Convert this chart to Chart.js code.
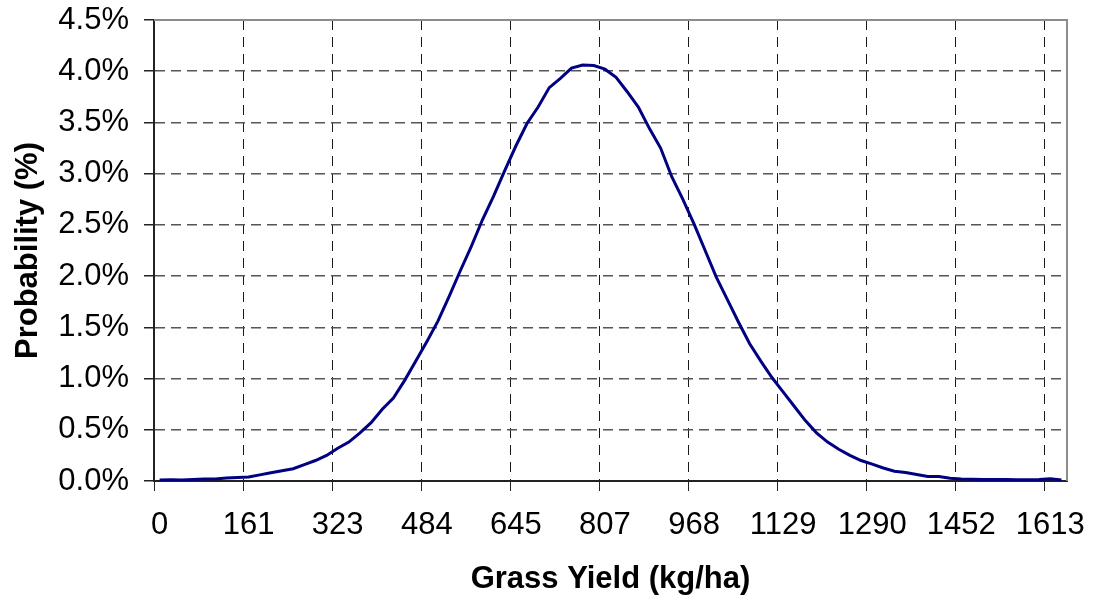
<!DOCTYPE html>
<html>
<head>
<meta charset="utf-8">
<title>Grass Yield</title>
<script src="https://cdn.jsdelivr.net/npm/chart.js@4/dist/chart.umd.min.js"></script>
<style>
  html, body { margin: 0; padding: 0; background: #fff; }
  #wrap { width: 1094px; height: 602px; }
</style>
</head>
<body>
<div id="wrap"><canvas id="chart" width="1094" height="602"></canvas></div>
<script>
// yield classes (kg/ha), one per bin
const yieldClasses = [
  '0', '20', '40', '60', '81', '101', '121', '141',
  '161', '181', '202', '222', '242', '262', '282', '302',
  '323', '343', '363', '383', '403', '423', '444', '464',
  '484', '504', '524', '544', '565', '585', '605', '625',
  '645', '665', '686', '706', '726', '746', '766', '786',
  '807', '827', '847', '867', '887', '907', '927', '948',
  '968', '988', '1008', '1028', '1048', '1069', '1089', '1109',
  '1129', '1149', '1169', '1190', '1210', '1230', '1250', '1270',
  '1290', '1311', '1331', '1351', '1371', '1391', '1411', '1432',
  '1452', '1472', '1492', '1512', '1532', '1553', '1573', '1593',
  '1613', '1633'
];

// probability in %
const probability = [
  0.01, 0.012, 0.01, 0.015, 0.02, 0.02, 0.03, 0.035,
  0.04, 0.06, 0.08, 0.10, 0.12, 0.16, 0.20, 0.25,
  0.32, 0.38, 0.47, 0.57, 0.70, 0.81, 0.98, 1.17,
  1.36, 1.56, 1.80, 2.05, 2.29, 2.55, 2.78, 3.03,
  3.27, 3.49, 3.65, 3.84, 3.93, 4.03, 4.06, 4.055,
  4.02, 3.94, 3.80, 3.65, 3.44, 3.25, 2.97, 2.75,
  2.51, 2.25, 1.99, 1.77, 1.55, 1.34, 1.17, 1.01,
  0.87, 0.73, 0.59, 0.47, 0.38, 0.31, 0.25, 0.20,
  0.165, 0.127, 0.095, 0.083, 0.063, 0.044, 0.044, 0.026,
  0.02, 0.017, 0.015, 0.015, 0.015, 0.013, 0.013, 0.015,
  0.022, 0.01
];

const labelEvery = 8;
const yMax = 4.5;
const yStep = 0.5;

const FONT = 'Liberation Sans, Arial, Helvetica, sans-serif';

// grey frame on top and right of the plot
const plotFrame = {
  id: 'plotFrame',
  beforeDatasetsDraw(chart) {
    const { ctx, chartArea: a } = chart;
    ctx.save();
    ctx.strokeStyle = '#8c8c8c';
    ctx.lineWidth = 2;
    ctx.beginPath();
    ctx.moveTo(a.left, a.top);
    ctx.lineTo(a.right, a.top);
    ctx.lineTo(a.right, a.bottom);
    ctx.stroke();
    ctx.restore();
  }
};

const ctx = document.getElementById('chart').getContext('2d');
new Chart(ctx, {
  type: 'line',
  data: {
    labels: yieldClasses,
    datasets: [{
      data: probability,
      borderColor: '#000080',
      borderWidth: 3,
      pointRadius: 0,
      tension: 0,
      fill: false
    }]
  },
  options: {
    responsive: false,
    animation: false,
    devicePixelRatio: 1,
    layout: { padding: { top: 20, right: 27, left: 0, bottom: 0 } },
    plugins: {
      legend: { display: false },
      tooltip: { enabled: false }
    },
    scales: {
      x: {
        type: 'category',
        offset: true,
        afterFit(scale) {
          scale.height = 121;
          scale.paddingLeft = 0;
          scale.paddingRight = 0;
        },
        grid: {
          offset: true,
          lineWidth: 1,
          color: (c) => (c.index % labelEvery === 0 && c.index > 0) ? '#1a1a1a' : 'rgba(0,0,0,0)',
          tickColor: (c) => (c.index % labelEvery === 0) ? '#222' : 'rgba(0,0,0,0)',
          tickLength: 10,
          tickBorderDash: []
        },
        border: { display: true, color: '#222', width: 2, dash: [10, 7] },
        ticks: {
          autoSkip: false,
          maxRotation: 0,
          minRotation: 0,
          padding: 16,
          color: '#000',
          font: { family: FONT, size: 31 },
          callback: function (value, index) {
            return index % labelEvery === 0 ? this.getLabelForValue(value) : '';
          }
        },
        title: {
          display: true,
          text: 'Grass Yield (kg/ha)',
          color: '#000',
          font: { family: FONT, size: 31, weight: 'bold' },
          padding: { top: 0, bottom: 4 }
        }
      },
      y: {
        min: 0,
        max: yMax,
        afterFit(scale) {
          scale.width = 154;
          scale.paddingTop = 0;
          scale.paddingBottom = 0;
        },
        grid: {
          lineWidth: 1.5,
          color: (c) => (c.index > 0) ? '#555' : 'rgba(0,0,0,0)',
          tickColor: '#222',
          tickLength: 10,
          tickBorderDash: []
        },
        border: { display: true, color: '#222', width: 2, dash: [10, 6] },
        ticks: {
          stepSize: yStep,
          padding: 15,
          color: '#000',
          font: { family: FONT, size: 31 },
          callback: (v) => v.toFixed(1) + '%'
        },
        title: {
          display: true,
          text: 'Probability (%)',
          color: '#000',
          font: { family: FONT, size: 31, weight: 'bold' },
          padding: { top: 10, bottom: 0 }
        }
      }
    }
  },
  plugins: [plotFrame]
});
</script>
</body>
</html>
